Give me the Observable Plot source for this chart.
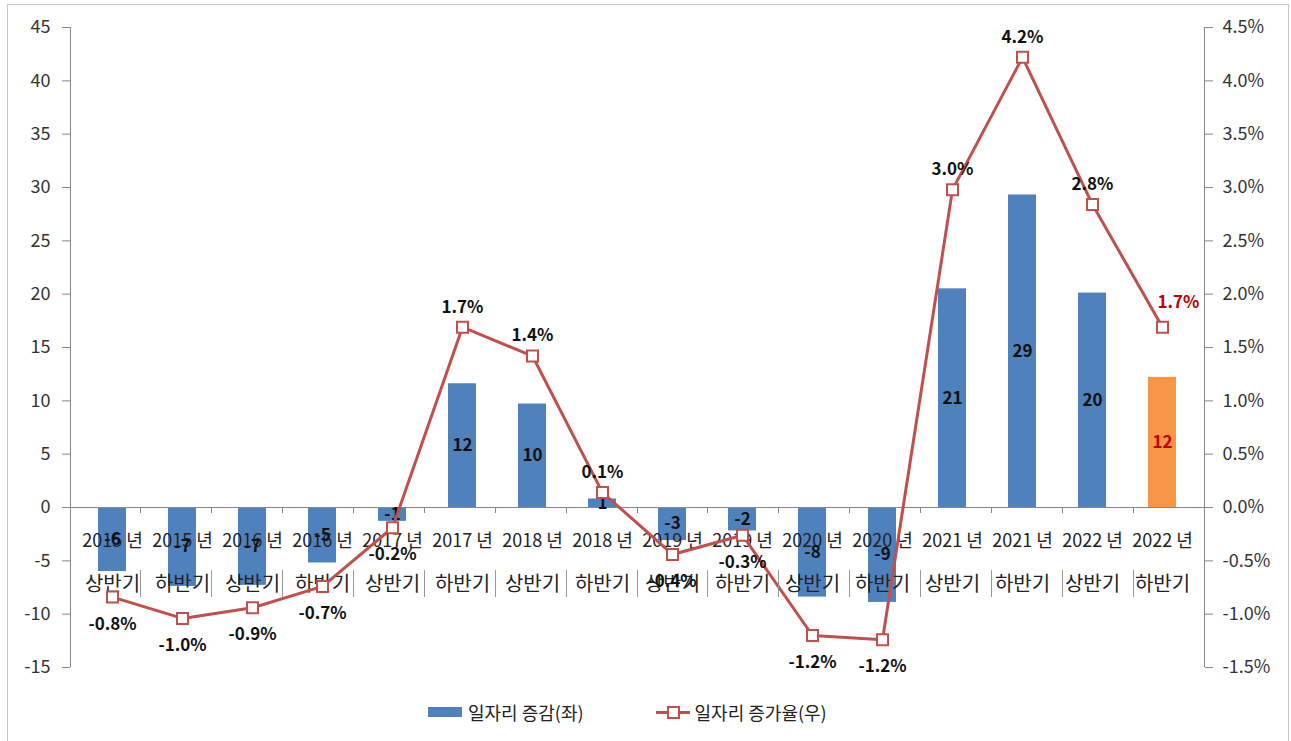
<!DOCTYPE html>
<html>
<head>
<meta charset="utf-8">
<script src="https://cdn.jsdelivr.net/npm/d3@7"></script>
<script src="https://cdn.jsdelivr.net/npm/@observablehq/plot@0.6"></script>
<style>
  body { margin: 0; background: #fff; font-family: "Noto Sans CJK KR", "Noto Sans", sans-serif; }
  #wrap { position: relative; width: 1291px; height: 741px; overflow: hidden; background: #fff; }
  #border { position: absolute; left: 7px; top: 4px; width: 1282px; height: 745px; border: 1px solid #c8c8c8; box-sizing: border-box; }
  #chart { position: absolute; left: 0; top: 0; }
  #legend { position: absolute; left: 428px; top: 699px; display: flex; align-items: center; font-size: 18px; color: #222; white-space: nowrap; }
  .sw-bar { width: 34px; height: 10px; background: #4f81bd; margin-right: 6px; }
  .sw-line { position: relative; width: 34px; height: 14px; margin-left: 72px; margin-right: 5px; }
  .sw-line::before { content: ""; position: absolute; left: 0; right: 0; top: 6px; height: 3px; background: #c0504d; }
  .sw-line::after { content: ""; position: absolute; left: 11px; top: 1px; width: 9px; height: 9px; background: #fff; border: 2px solid #c0504d; }
</style>
</head>
<body>
<div id="wrap">
  <div id="border"></div>
  <div id="chart"></div>
  <div id="legend">
    <span class="sw-bar"></span><span>일자리 증감(좌)</span>
    <span class="sw-line"></span><span>일자리 증가율(우)</span>
  </div>
</div>
<script>
const years = ["2015 년","2015 년","2016 년","2016 년","2017 년","2017 년","2018 년","2018 년",
               "2019 년","2019 년","2020 년","2020 년","2021 년","2021 년","2022 년","2022 년"];
const halves = ["상반기","하반기","상반기","하반기","상반기","하반기","상반기","하반기",
                "상반기","하반기","상반기","하반기","상반기","하반기","상반기","하반기"];
// 일자리 증감 (left axis)
const jobChange = [-6.0, -7.4, -7.3, -5.2, -1.3, 11.6, 9.7, 0.8, -3.1, -2.2, -8.4, -8.9, 20.5, 29.3, 20.1, 12.2];
// 일자리 증가율, % (right axis)
const jobRate = [-0.84, -1.04, -0.94, -0.74, -0.19, 1.69, 1.42, 0.14, -0.44, -0.26, -1.20, -1.24, 2.98, 4.22, 2.84, 1.69];
const leftTicks = [-15, -10, -5, 0, 5, 10, 15, 20, 25, 30, 35, 40, 45];
const rightTicks = [-1.5, -1.0, -0.5, 0.0, 0.5, 1.0, 1.5, 2.0, 2.5, 3.0, 3.5, 4.0, 4.5];

const RATIO = 10; // right axis % mapped onto left axis units (4.5% ↔ 45)
const categories = years.map((y, i) => y + " " + halves[i]);
const data = categories.map((c, i) => ({ c, i, year: years[i], half: halves[i], v: jobChange[i], r: jobRate[i] }));
const last = data.length - 1;

const font = "'Noto Sans CJK KR', 'Noto Sans', sans-serif";
const lineColor = "#c0504d";

const chart = Plot.plot({
  width: 1291,
  height: 690,
  marginTop: 27,
  marginBottom: 23,
  marginLeft: 70,
  marginRight: 87,
  style: { fontFamily: font, background: "transparent", overflow: "visible" },
  x: { domain: categories, paddingInner: 0.6, paddingOuter: 0.3, axis: null },
  y: { domain: [-15, 45], axis: null },
  color: { type: "identity" },
  marks: [
    Plot.axisY({ anchor: "left", label: null, ticks: leftTicks, tickSize: 8, tickPadding: 12, tickFormat: d => String(d),
                 fontSize: 18, fill: "#333", stroke: "#868686" }),
    Plot.axisY({ anchor: "right", label: null, ticks: rightTicks.map(t => t * RATIO), tickSize: 8, tickPadding: 10,
                 tickFormat: d => (d / RATIO).toFixed(1) + "%", fontSize: 18, fill: "#333", stroke: "#868686" }),
    Plot.barY(data, { x: "c", y: "v", fill: d => d.i === last ? "#f79646" : "#4f81bd" }),
    Plot.ruleY([0], { stroke: "#868686" }),
    Plot.text(data, { x: "c", y: 0, text: "year", dy: 34, fontSize: 18, fill: "#222" }),
    Plot.text(data, { x: "c", y: 0, text: "half", dy: 77, fontSize: 20, fill: "#222" }),
    Plot.text(data, { x: "c", y: d => d.v / 2, text: d => String(Math.round(d.v)), fontSize: 17, fontWeight: "bold",
                      fill: d => d.i === last ? "#c00000" : "#111" }),
    Plot.lineY(data, { x: "c", y: d => d.r * RATIO, stroke: lineColor, strokeWidth: 3 }),
    Plot.dot(data, { x: "c", y: d => d.r * RATIO, symbol: "square", r: 6.2, fill: "white", stroke: lineColor, strokeWidth: 2 }),
    Plot.text(data.filter(d => d.r < 0), { x: "c", y: d => d.r * RATIO, text: d => d.r.toFixed(1) + "%", dy: 27,
                      fontSize: 17, fontWeight: "bold", fill: "#111" }),
    Plot.text(data.filter(d => d.r >= 0 && d.i !== last), { x: "c", y: d => d.r * RATIO, text: d => d.r.toFixed(1) + "%", dy: -20,
                      fontSize: 17, fontWeight: "bold", fill: "#111" }),
    Plot.text(data.filter(d => d.i === last), { x: "c", y: d => d.r * RATIO, text: d => d.r.toFixed(1) + "%", dy: -25, dx: 16,
                      fontSize: 17, fontWeight: "bold", fill: "#c00000" })
  ]
});

document.getElementById("chart").appendChild(chart);

// Axis lines, category ticks and separators, positioned from Plot's own scales
const xs = chart.scale("x"), ys = chart.scale("y");
const [x0, x1] = xs.range;
const step = (x1 - x0) / categories.length;
const yTop = ys.apply(45), yBot = ys.apply(-15), yZero = ys.apply(0);
const svg = d3.select(chart);
const g = svg.append("g").attr("stroke", "#868686").attr("stroke-width", 1).attr("shape-rendering", "crispEdges");
g.append("line").attr("x1", x0).attr("x2", x0).attr("y1", yTop).attr("y2", yBot);
g.append("line").attr("x1", x1).attr("x2", x1).attr("y1", yTop).attr("y2", yBot);
g.append("line").attr("x1", x0 - 8).attr("x2", x0).attr("y1", yZero).attr("y2", yZero);
for (let k = 1; k < categories.length; k++) {
  const xb = x0 + k * step;
  g.append("line").attr("x1", xb).attr("x2", xb).attr("y1", yZero).attr("y2", yZero + 6);
  g.append("line").attr("x1", xb).attr("x2", xb).attr("y1", yZero + 63).attr("y2", yZero + 90).attr("stroke", "#999");
}
</script>
</body>
</html>
